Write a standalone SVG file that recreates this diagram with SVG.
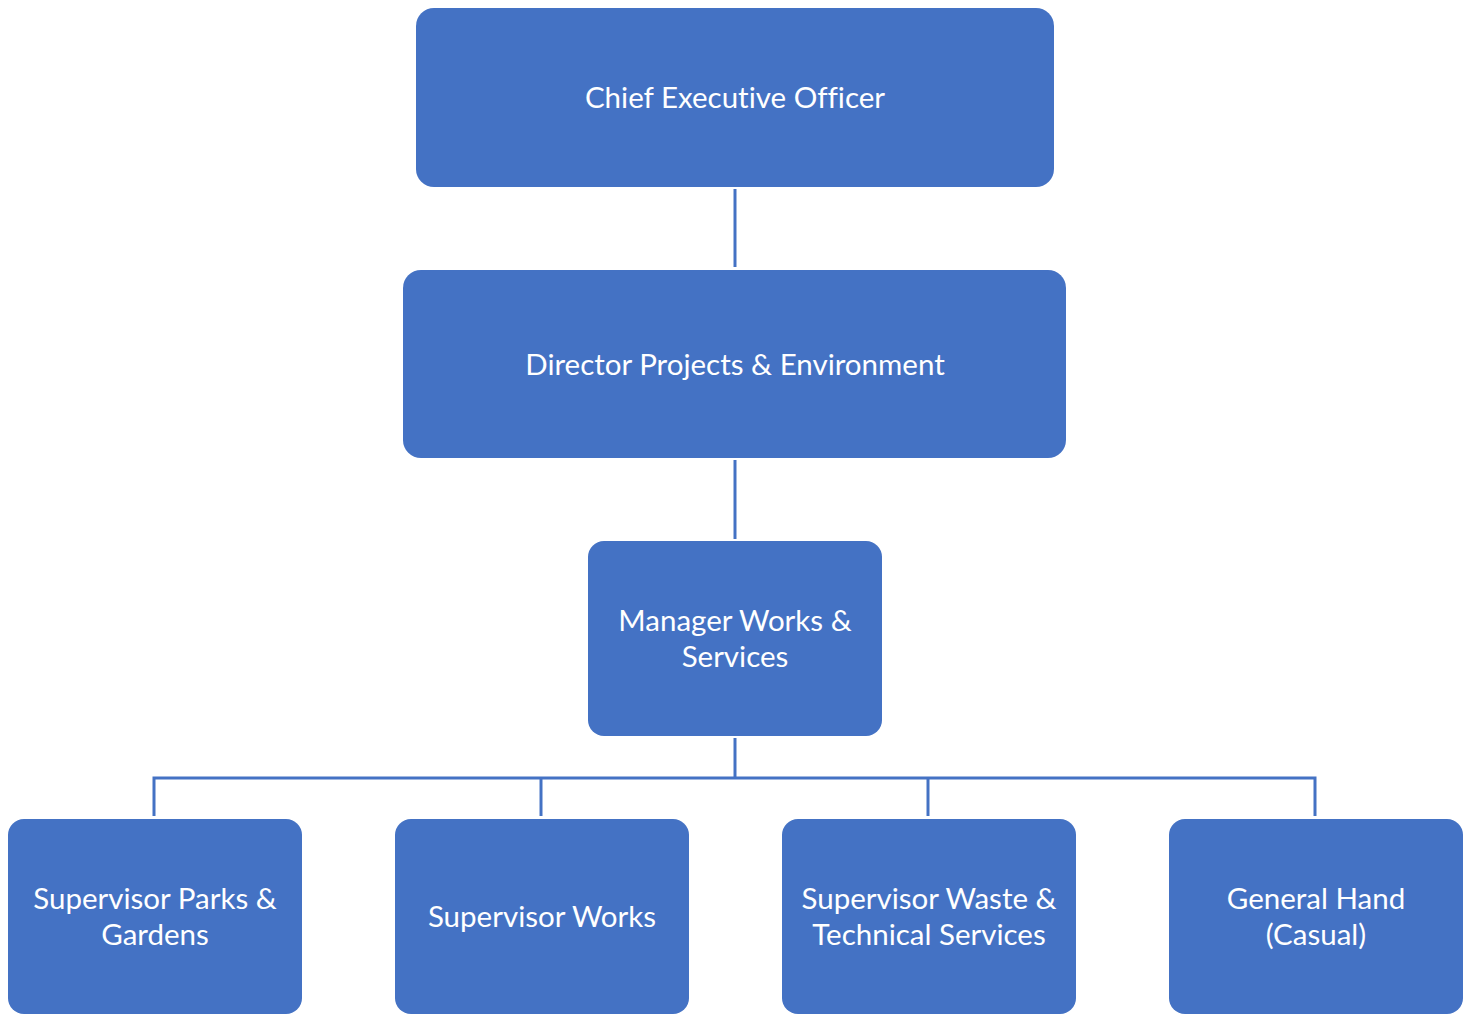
<svg xmlns="http://www.w3.org/2000/svg" width="1464" height="1015" viewBox="0 0 1464 1015">
  <style>
    .box { fill: #4472C4; }
    .lbl { fill: #FFFFFF; font-family: Lato, "Open Sans", "Liberation Sans", sans-serif; font-size: 29.5px; text-anchor: middle; dominant-baseline: central; font-variant-ligatures: none; font-feature-settings: "liga" 0, "dlig" 0; }
    .wire { fill: none; stroke: #4472C4; stroke-width: 3; }
  </style>
  <rect width="1464" height="1015" fill="#FFFFFF"/>

  <g id="connectors">
    <path class="wire" d="M735 189 V267"/>
    <path class="wire" d="M735 460 V539"/>
    <path class="wire" d="M735 738 V778"/>
    <path class="wire" d="M154 816 V778 H1315 V816"/>
    <path class="wire" d="M541 778 V816"/>
    <path class="wire" d="M928 778 V816"/>
  </g>

  <g id="ceo">
    <rect class="box" x="416" y="8" width="638" height="179" rx="18"/>
    <text class="lbl" x="735" y="96">Chief Executive Officer</text>
  </g>

  <g id="director">
    <rect class="box" x="403" y="270" width="663" height="188" rx="18"/>
    <text class="lbl" x="735" y="363">Director Projects &amp; Environment</text>
  </g>

  <g id="manager">
    <rect class="box" x="588" y="541" width="294" height="195" rx="16"/>
    <text class="lbl" x="735" y="619">Manager Works &amp;</text>
    <text class="lbl" x="735" y="655">Services</text>
  </g>

  <g id="sup-parks">
    <rect class="box" x="8" y="819" width="294" height="195" rx="16"/>
    <text class="lbl" x="155" y="897">Supervisor Parks &amp;</text>
    <text class="lbl" x="155" y="933">Gardens</text>
  </g>

  <g id="sup-works">
    <rect class="box" x="395" y="819" width="294" height="195" rx="16"/>
    <text class="lbl" x="542" y="915">Supervisor Works</text>
  </g>

  <g id="sup-waste">
    <rect class="box" x="782" y="819" width="294" height="195" rx="16"/>
    <text class="lbl" x="929" y="897">Supervisor Waste &amp;</text>
    <text class="lbl" x="929" y="933">Technical Services</text>
  </g>

  <g id="general-hand">
    <rect class="box" x="1169" y="819" width="294" height="195" rx="16"/>
    <text class="lbl" x="1316" y="897">General Hand</text>
    <text class="lbl" x="1316" y="933">(Casual)</text>
  </g>
</svg>
